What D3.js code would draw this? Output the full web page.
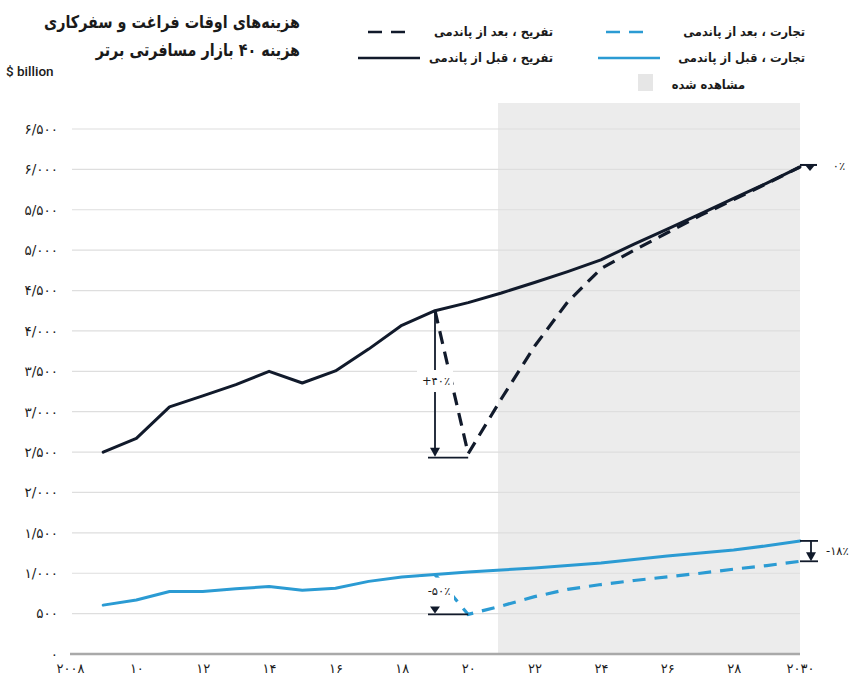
<!DOCTYPE html>
<html>
<head>
<meta charset="utf-8">
<script src="https://cdn.jsdelivr.net/npm/d3@7"></script>
<style>
  html, body { margin: 0; padding: 0; background: #fff; }
  svg { display: block; }
  text { font-family: "DejaVu Sans", sans-serif; fill: #1a1a1a; }
</style>
</head>
<body>
<svg id="chart" width="867" height="681"></svg>
<script>
// Yearly spending, $ billion
const years = d3.range(2009, 2031);
const leisurePre = [2500, 2670, 3060, 3195, 3335, 3500, 3355, 3505, 3775, 4070, 4250,
                    4350, 4470, 4600, 4735, 4880, 5075, 5260, 5450, 5640, 5830, 6030];
const businessPre = [605, 668, 773, 773, 807, 836, 790, 815, 899, 954, 983,
                     1015, 1040, 1064, 1095, 1126, 1170, 1213, 1250, 1287, 1340, 1400];
const postYears = d3.range(2019, 2031);
const leisurePost = [4250, 2480, 3160, 3810, 4360, 4770, 5000, 5215, 5430, 5625, 5825, 6030];
const businessPost = [983, 490, 595, 710, 800, 860, 910, 955, 1000, 1050, 1095, 1148];

const yTicks = [0, 500, 1000, 1500, 2000, 2500, 3000, 3500, 4000, 4500, 5000, 5500, 6000, 6500];
const yTickLabels = ["۰", "۵۰۰", "۱/۰۰۰", "۱/۵۰۰", "۲/۰۰۰", "۲/۵۰۰", "۳/۰۰۰", "۳/۵۰۰",
                     "۴/۰۰۰", "۴/۵۰۰", "۵/۰۰۰", "۵/۵۰۰", "۶/۰۰۰", "۶/۵۰۰"];
const xTicks = [2008, 2010, 2012, 2014, 2016, 2018, 2020, 2022, 2024, 2026, 2028, 2030];
const xTickLabels = ["۲۰۰۸", "۱۰", "۱۲", "۱۴", "۱۶", "۱۸", "۲۰", "۲۲", "۲۴", "۲۶", "۲۸", "۲۰۳۰"];
const shadeStart = 2020.9;

const titleLines = ["هزینه‌های اوقات فراغت و سفرکاری", "هزینه ۴۰ بازار مسافرتی برتر"];
const unitLabel = "$ billion";
const legendItems = [
  { label: "تفریح ، بعد از پاندمی", color: "#111a2b", dashed: true },
  { label: "تفریح ، قبل از پاندمی", color: "#111a2b", dashed: false },
  { label: "تجارت ، بعد از پاندمی", color: "#2b9bd3", dashed: true },
  { label: "تجارت ، قبل از پاندمی", color: "#2b9bd3", dashed: false },
  { label: "مشاهده شده", color: "#e6e6e6", box: true }
];
const changeLabels = { leisureDrop: "+۴۰٪", businessDrop: "-۵۰٪", leisureEnd: "۰٪", businessEnd: "-۱۸٪" };

const BLACK = "#111a2b", BLUE = "#2b9bd3";

const svg = d3.select("#chart");
const x = d3.scaleLinear().domain([2008, 2030]).range([70, 800]);
const y = d3.scaleLinear().domain([0, 6500]).range([654, 129]);

// shaded projection band
svg.append("rect")
  .attr("x", x(shadeStart)).attr("y", 103)
  .attr("width", x(2030) - x(shadeStart)).attr("height", y(0) - 103)
  .attr("fill", "#ececec");

// gridlines
svg.append("g").selectAll("line")
  .data(yTicks.filter(d => d > 0))
  .join("line")
  .attr("x1", 72).attr("x2", x(2030))
  .attr("y1", d => y(d)).attr("y2", d => y(d))
  .attr("stroke", "#dedede").attr("stroke-width", 1.2);

// baseline
svg.append("line")
  .attr("x1", 70).attr("x2", x(2030))
  .attr("y1", y(0)).attr("y2", y(0))
  .attr("stroke", "#a9a9a9").attr("stroke-width", 2.5);

// y axis labels
const yAxis = d3.axisLeft(y).tickValues(yTicks)
  .tickFormat((d, i) => yTickLabels[i]).tickSize(0).tickPadding(14);
svg.append("g").attr("transform", "translate(72,0)").call(yAxis)
  .call(g => g.select(".domain").remove())
  .call(g => g.selectAll("text").style("font-size", "13.5px").attr("fill", "#222")
    .style("font-family", "'DejaVu Sans', sans-serif"));

// x axis labels
const xAxis = d3.axisBottom(x).tickValues(xTicks)
  .tickFormat((d, i) => xTickLabels[i]).tickSize(0).tickPadding(10);
svg.append("g").attr("transform", `translate(0,${y(0)})`).call(xAxis)
  .call(g => g.select(".domain").remove())
  .call(g => g.selectAll("text").style("font-size", "13px").attr("fill", "#222")
    .style("font-family", "'DejaVu Sans', sans-serif"));

// series lines
const linePre = d3.line().x((d, i) => x(years[i])).y(d => y(d));
const linePost = d3.line().x((d, i) => x(postYears[i])).y(d => y(d));

svg.append("path").datum(businessPre).attr("d", linePre)
  .attr("fill", "none").attr("stroke", BLUE).attr("stroke-width", 3)
  .attr("stroke-linejoin", "round").attr("stroke-linecap", "round");
svg.append("path").datum(businessPost).attr("d", linePost)
  .attr("fill", "none").attr("stroke", BLUE).attr("stroke-width", 3.2)
  .attr("stroke-dasharray", "13,9");
svg.append("path").datum(leisurePost).attr("d", linePost)
  .attr("fill", "none").attr("stroke", BLACK).attr("stroke-width", 3.2)
  .attr("stroke-dasharray", "13,8").attr("stroke-linejoin", "round");
svg.append("path").datum(leisurePre).attr("d", linePre)
  .attr("fill", "none").attr("stroke", BLACK).attr("stroke-width", 3)
  .attr("stroke-linejoin", "round").attr("stroke-linecap", "round");

// arrow helpers
function downArrow(g, cx, y0, y1, color) {
  g.append("line").attr("x1", cx).attr("x2", cx).attr("y1", y0).attr("y2", y1 - 6)
    .attr("stroke", color).attr("stroke-width", 1.8);
  g.append("path")
    .attr("d", `M${cx - 5},${y1 - 9} L${cx + 5},${y1 - 9} L${cx},${y1} Z`)
    .attr("fill", color);
}
const ann = svg.append("g");

// leisure drop 2019 -> 2020
const l19 = leisurePost[0], l20 = leisurePost[1];
downArrow(ann, x(2019), y(l19), y(l20) + 3, BLACK);
ann.append("line").attr("x1", x(2019) - 7).attr("x2", x(2020))
  .attr("y1", y(l20) + 4).attr("y2", y(l20) + 4)
  .attr("stroke", BLACK).attr("stroke-width", 1.8);
ann.append("rect").attr("x", x(2019) - 18).attr("y", 370).attr("width", 36).attr("height", 22).attr("fill", "#fff");
ann.append("text").attr("x", x(2019) + 1).attr("y", 385).attr("text-anchor", "middle")
  .style("font-size", "11.5px").text(changeLabels.leisureDrop);

// business drop 2019 -> 2020
const b19 = businessPost[0], b20 = businessPost[1];
ann.append("rect").attr("x", x(2019) - 16).attr("y", y(b19) + 3).attr("width", 35).attr("height", y(b20) - y(b19) - 14).attr("fill", "#fff");
ann.append("path")
  .attr("d", `M${x(2019) - 5},${y(b20) - 8} L${x(2019) + 5},${y(b20) - 8} L${x(2019)},${y(b20) - 1} Z`)
  .attr("fill", BLACK);
ann.append("line").attr("x1", x(2019) - 7).attr("x2", x(2020))
  .attr("y1", y(b20)).attr("y2", y(b20))
  .attr("stroke", BLACK).attr("stroke-width", 1.8);
ann.append("text").attr("x", x(2019) + 4).attr("y", y(b20) - 19).attr("text-anchor", "middle")
  .style("font-size", "11.5px").text(changeLabels.businessDrop);

// end-of-period gaps
const lEnd = leisurePre[leisurePre.length - 1];
const xe = x(2030);
ann.append("line").attr("x1", xe).attr("x2", xe + 17).attr("y1", y(lEnd) - 2).attr("y2", y(lEnd) - 2)
  .attr("stroke", BLACK).attr("stroke-width", 2);
ann.append("path").attr("d", `M${xe + 5},${y(lEnd) - 2} L${xe + 15},${y(lEnd) - 2} L${xe + 10},${y(lEnd) + 4} Z`).attr("fill", BLACK);
ann.append("text").attr("x", xe + 39).attr("y", y(lEnd) + 3).attr("text-anchor", "middle")
  .style("font-size", "11.5px").attr("fill", "#333").text(changeLabels.leisureEnd);

const bEnd = businessPre[businessPre.length - 1];
const bPostEnd = businessPost[businessPost.length - 1];
ann.append("line").attr("x1", xe).attr("x2", xe + 18).attr("y1", y(bEnd)).attr("y2", y(bEnd))
  .attr("stroke", BLACK).attr("stroke-width", 1.8);
downArrow(ann, xe + 11, y(bEnd), y(bPostEnd), BLACK);
ann.append("line").attr("x1", xe).attr("x2", xe + 18).attr("y1", y(bPostEnd)).attr("y2", y(bPostEnd))
  .attr("stroke", BLACK).attr("stroke-width", 1.8);
ann.append("text").attr("x", xe + 26).attr("y", (y(bEnd) + y(bPostEnd)) / 2 + 4)
  .style("font-size", "11.5px").attr("fill", "#333").text(changeLabels.businessEnd);

// title, horizontally condensed to fit its column
svg.append("g").selectAll("text").data(titleLines).join("text")
  .attr("transform", (d, i) => `translate(300,${28 + i * 28}) scale(0.82,1)`)
  .attr("text-anchor", "end")
  .style("font-size", "17.5px").style("font-weight", "bold")
  .text(d => d);
svg.append("text").attr("x", 6).attr("y", 76)
  .style("font-family", "Roboto, sans-serif").style("font-size", "13.5px").style("font-weight", "500")
  .text(unitLabel);

// legend
const legendPos = [
  { tx: 553, ty: 36, lx1: 368, lx2: 412 },
  { tx: 553, ty: 62, lx1: 358, lx2: 420 },
  { tx: 805, ty: 36, lx1: 606, lx2: 651 },
  { tx: 805, ty: 62, lx1: 598, lx2: 660 },
  { tx: 745, ty: 89, lx1: 638, lx2: 653 }
];
const lg = svg.append("g");
legendItems.forEach((d, i) => {
  const p = legendPos[i];
  if (d.box) {
    lg.append("rect").attr("x", p.lx1).attr("y", p.ty - 15).attr("width", p.lx2 - p.lx1).attr("height", 17).attr("fill", d.color);
  } else {
    lg.append("line").attr("x1", p.lx1).attr("x2", p.lx2).attr("y1", p.ty - 4).attr("y2", p.ty - 4)
      .attr("stroke", d.color).attr("stroke-width", 2.5)
      .attr("stroke-dasharray", d.dashed ? "14,9" : null);
  }
  lg.append("text")
    .attr("transform", `translate(${p.tx},${p.ty}) scale(0.92,1)`)
    .attr("text-anchor", "end")
    .style("font-size", "12.5px").style("font-weight", "bold").text(d.label);
});
</script>
</body>
</html>
